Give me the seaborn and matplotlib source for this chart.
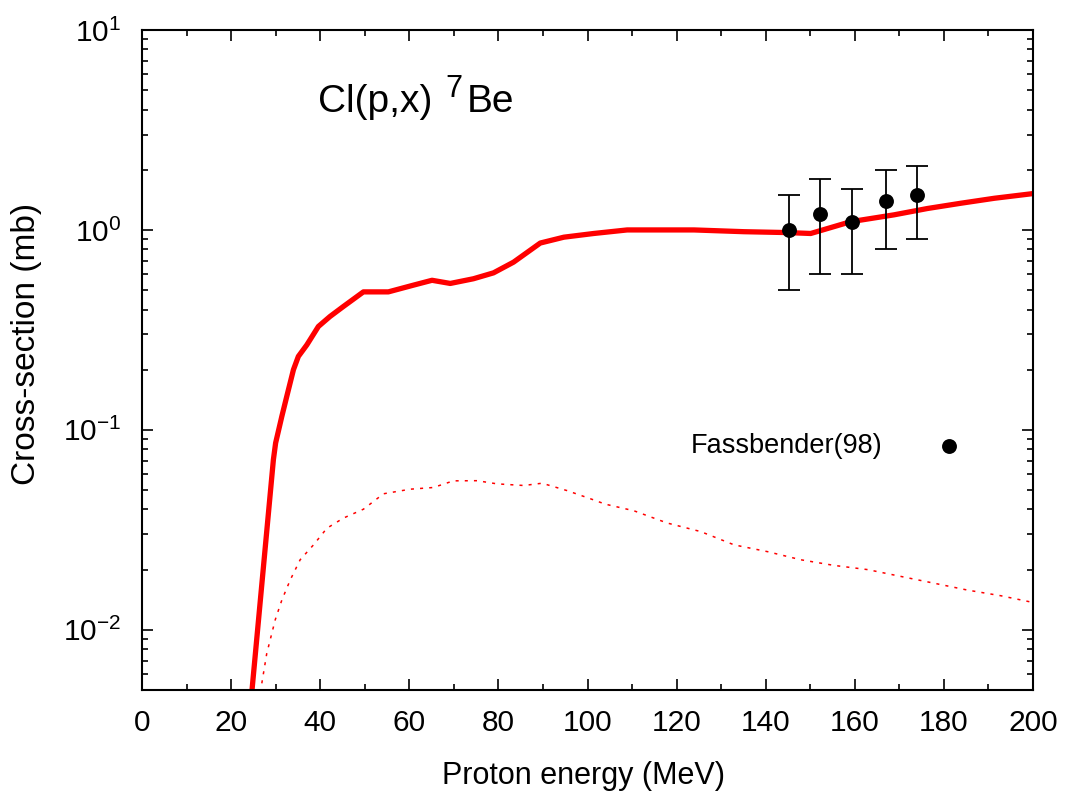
import numpy as np
import pandas as pd
import matplotlib
matplotlib.use("Agg")
import matplotlib.pyplot as plt
from matplotlib.ticker import MultipleLocator, LogLocator, NullFormatter
import seaborn as sns

# calculated cross-section, total (thick solid line)
calc_energy = [24.7, 29.5, 30.0, 31.4, 32.5, 34.0, 35.1, 37.0, 39.6, 42.2, 45.2, 49.7,
               55.3, 61.0, 65.1, 69.2, 74.4, 78.9, 83.4, 89.4, 94.7, 101.4, 108.9,
               123.9, 135.1, 144.9, 150.1, 159.1, 168.8, 176.3, 183.8, 191.3, 200.0]
calc_xs = [0.005, 0.071, 0.086, 0.117, 0.147, 0.20, 0.233, 0.266, 0.329, 0.369, 0.414, 0.49,
           0.49, 0.53, 0.56, 0.54, 0.57, 0.61, 0.69, 0.86, 0.92, 0.96, 1.0,
           1.0, 0.98, 0.97, 0.96, 1.10, 1.19, 1.28, 1.36, 1.44, 1.52]

# second calculated component (thin dotted line)
comp_energy = [26.9, 28.0, 29.9, 31.4, 33.3, 35.5, 38.5, 41.5, 45.2, 49.7, 54.2, 60.2,
               65.4, 69.9, 75.2, 79.7, 85.7, 89.8, 95.4, 100.7, 104.0, 110.4, 117.9,
               125.4, 132.9, 140.4, 147.9, 155.3, 162.9, 170.3, 177.8, 185.3, 192.8, 200.0]
comp_xs = [0.0054, 0.0076, 0.0112, 0.0141, 0.0178, 0.0224, 0.0266, 0.0322, 0.0362, 0.0401,
           0.0479, 0.0505, 0.0515, 0.0556, 0.0557, 0.0537, 0.0527, 0.0541, 0.0497, 0.0452,
           0.0425, 0.0394, 0.0342, 0.031, 0.0266, 0.0246, 0.0224, 0.021, 0.020, 0.0185,
           0.0171, 0.0158, 0.0148, 0.0137]

# Fassbender(98) measurements
exp_energy = [145.2, 152.1, 159.3, 166.9, 173.9]
exp_xs = [1.0, 1.2, 1.1, 1.4, 1.5]
exp_err = [0.5, 0.6, 0.5, 0.6, 0.6]

sns.set_style("ticks")
plt.rcParams["font.family"] = ["Liberation Sans", "DejaVu Sans"]
plt.rcParams["mathtext.default"] = "regular"
for k in ["text.color", "axes.labelcolor", "xtick.color", "ytick.color"]:
    plt.rcParams[k] = "black"

fig = plt.figure(figsize=(10.65, 8), dpi=100)
ax = fig.add_axes([0.1333, 0.1375, 0.8367, 0.825])

calc = pd.DataFrame({"E": calc_energy, "xs": calc_xs})
comp = pd.DataFrame({"E": comp_energy, "xs": comp_xs})
exp = pd.DataFrame({"E": exp_energy, "xs": exp_xs, "err": exp_err})

sns.lineplot(data=calc, x="E", y="xs", ax=ax, color="#ff0000", lw=3.8,
             estimator=None, sort=False, legend=False)
sns.lineplot(data=comp, x="E", y="xs", ax=ax, color="#ff0000", lw=1.1,
             estimator=None, sort=False, legend=False)
ax.lines[-1].set_dashes([2, 4])

ax.errorbar(exp["E"], exp["xs"], yerr=exp["err"], fmt="none", ecolor="black",
            elinewidth=1.3, capsize=8, capthick=1.3, zorder=3)
sns.scatterplot(data=exp, x="E", y="xs", ax=ax, color="black", s=115,
                edgecolor="black", linewidth=0, zorder=4, label="Fassbender(98)")

ax.set_yscale("log")
ax.set_xlim(0, 200)
ax.set_ylim(0.005, 10)

ax.xaxis.set_major_locator(MultipleLocator(20))
ax.xaxis.set_minor_locator(MultipleLocator(10))
ax.yaxis.set_major_locator(LogLocator(base=10, numticks=10))
ax.yaxis.set_minor_locator(LogLocator(base=10, subs=np.arange(2, 10), numticks=10))
ax.yaxis.set_minor_formatter(NullFormatter())

ax.tick_params(which="both", direction="in", top=True, right=True, width=1.2,
               labelsize=21.5)
ax.tick_params(which="major", length=8)
ax.tick_params(which="minor", length=4)
ax.tick_params(axis="x", which="major", pad=14)
ax.tick_params(axis="y", which="major", pad=15)
for s in ax.spines.values():
    s.set_linewidth(1.5)
    s.set_color("black")

ax.set_xlabel("Proton energy (MeV)", fontsize=22)
ax.set_ylabel("Cross-section (mb)", fontsize=24)
ax.xaxis.set_label_coords(0.495, -0.1076)
ax.yaxis.set_label_coords(-0.112, 0.524)

# reaction label, superscript mass number drawn larger than mathtext would
ax.text(0.1975, 0.8758, "Cl(p,x)", transform=ax.transAxes, fontsize=28, va="baseline")
ax.text(0.340, 0.898, "7", transform=ax.transAxes, fontsize=22, va="baseline")
ax.text(0.3648, 0.8758, "Be", transform=ax.transAxes, fontsize=28, va="baseline")

ax.legend(loc="center right", bbox_to_anchor=(0.9366, 0.3697), frameon=False,
          markerfirst=False, fontsize=19.5, handlelength=2, handletextpad=1.48,
          borderpad=0, borderaxespad=0)

fig.savefig("out.png", dpi=100)
